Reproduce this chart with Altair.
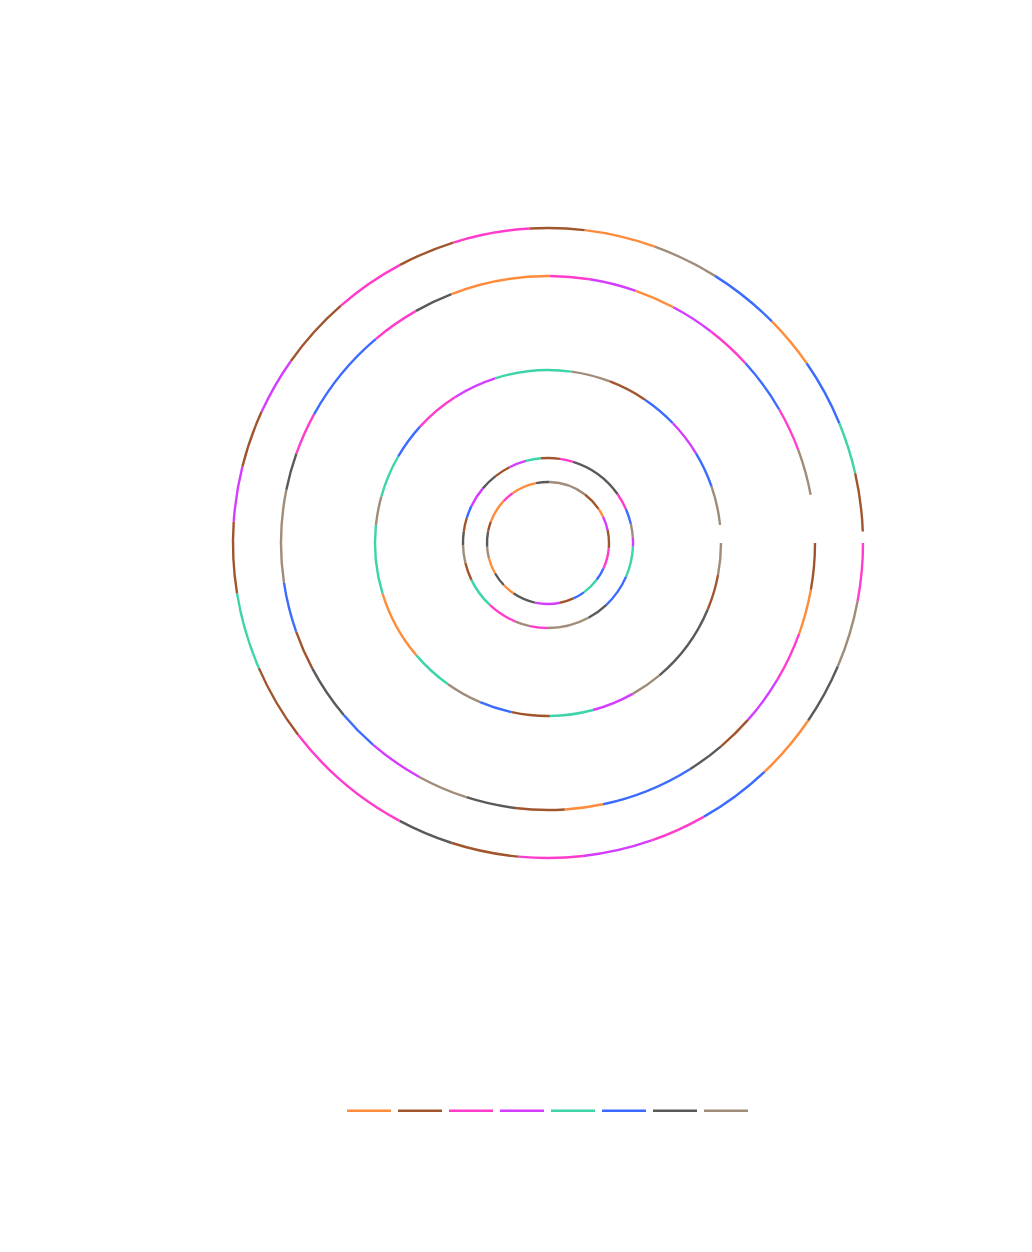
import math
import altair as alt
import pandas as pd

# legend categories and their colours
categories = ["orange", "brown", "pink", "purple", "teal", "blue", "gray", "tan"]
palette = ["#ff8c3a", "#a0552d", "#ff3ccc", "#d43cff", "#3cd4a8", "#3c6cff", "#5a5a5a", "#a08c78"]

# ring levels (radius value of each ring)
ring_levels = [315, 267, 173, 85, 61]

# cumulative breakpoints (degrees, clockwise from 3 o'clock) and segment categories
ring1_breaks = [0, 10.65, 23.1, 34.3, 46.6, 60.3, 70.8, 83.6, 95.4, 107.9, 118.1, 142.5, 156.6,
                170.8, 183.9, 194.0, 204.6, 215.3, 228.9, 242.0, 252.5, 266.7, 276.7, 289.8,
                302.0, 315.3, 325.2, 337.7, 347.2, 357.9]
ring1_cats = ["pink", "tan", "gray", "orange", "blue", "pink", "purple", "pink", "brown", "gray",
              "pink", "brown", "teal", "brown", "purple", "brown", "purple", "brown", "pink",
              "brown", "pink", "brown", "orange", "tan", "blue", "orange", "blue", "teal", "brown"]

ring2_breaks = [0, 10.1, 19.9, 30.8, 41.5, 49.6, 57.9, 78.1, 86.4, 97.1, 107.8, 118.7, 130.9,
                139.9, 152.0, 160.6, 171.4, 191.5, 199.6, 208.8, 229.8, 240.4, 248.8, 270.4,
                279.0, 289.2, 298.0, 307.7, 317.7, 330.0, 339.6, 349.6]
ring2_cats = ["brown", "orange", "pink", "purple", "brown", "gray", "blue", "orange", "brown",
              "gray", "tan", "purple", "blue", "gray", "brown", "blue", "tan", "gray", "pink",
              "blue", "pink", "gray", "orange", "pink", "purple", "orange", "purple", "pink",
              "blue", "pink", "tan"]

ring3_breaks = [0, 10.7, 22.6, 49.9, 60.7, 74.9, 89.4, 102.1, 113.1, 125.3, 139.6, 163.0, 186.0,
                195.6, 210.0, 222.3, 237.6, 252.2, 277.8, 291.0, 304.1, 316.1, 328.8, 341.0, 354.0]
ring3_cats = ["tan", "brown", "gray", "tan", "purple", "teal", "brown", "blue", "tan", "teal",
              "orange", "teal", "tan", "teal", "blue", "pink", "purple", "teal", "tan", "brown",
              "blue", "purple", "blue", "tan"]

ring4_breaks = [0, 2.5, 23.3, 46.6, 61.6, 90.0, 102.2, 112.9, 133.2, 154.3, 166.5, 178.6, 187.6,
                197.1, 205.7, 220.0, 231.9, 243.1, 255.0, 265.2, 278.1, 287.2, 325.0, 336.4,
                347.1, 356.5, 360]
ring4_cats = ["purple", "teal", "blue", "gray", "tan", "pink", "tan", "pink", "teal", "brown",
              "tan", "gray", "brown", "blue", "purple", "gray", "brown", "purple", "teal",
              "brown", "pink", "gray", "pink", "blue", "tan", "purple"]

ring5_breaks = [0, 5.0, 24.6, 37.1, 54.0, 65.4, 78.6, 102.5, 124.5, 136.5, 150.3, 165.5, 176.5,
                190.8, 200.5, 223.6, 234.6, 258.8, 271.5, 307.3, 326.0, 334.5, 347.7, 360]
ring5_cats = ["brown", "pink", "blue", "teal", "blue", "brown", "purple", "gray", "orange", "gray",
              "orange", "tan", "gray", "brown", "orange", "pink", "orange", "gray", "tan", "brown",
              "orange", "purple", "brown"]

all_breaks = [ring1_breaks, ring2_breaks, ring3_breaks, ring4_breaks, ring5_breaks]
all_cats = [ring1_cats, ring2_cats, ring3_cats, ring4_cats, ring5_cats]

rows = []
for level, breaks, cats in zip(ring_levels, all_breaks, all_cats):
    for i, c in enumerate(cats):
        rows.append({"level": level, "cat": c, "start": breaks[i], "end": breaks[i + 1]})
df = pd.DataFrame(rows)

chart = alt.Chart(df).mark_arc(filled=False, strokeWidth=2.4).encode(
    theta=alt.Theta("start:Q", stack=None,
                    scale=alt.Scale(domain=[0, 360], range=[math.pi / 2, 5 * math.pi / 2])),
    theta2=alt.Theta2("end:Q"),
    radius=alt.Radius("level:Q", scale=alt.Scale(type="linear", domain=[0, 315], range=[0, 315])),
    radius2=alt.Radius2("level:Q"),
    color=alt.Color("cat:N", scale=alt.Scale(domain=categories, range=palette),
                    legend=alt.Legend(orient="none", legendX=247.5, legendY=994,
                                      direction="horizontal", title=None,
                                      symbolType="stroke", symbolSize=1936,
                                      symbolStrokeWidth=2.5, labelExpr="''",
                                      labelOffset=0, columnPadding=-4)),
).properties(
    width=900, height=900,
    padding={"left": 90, "top": 85, "right": 0, "bottom": 0},
).configure_view(stroke=None)

chart.save("out.html", embed_options={"renderer": "svg", "actions": False})
